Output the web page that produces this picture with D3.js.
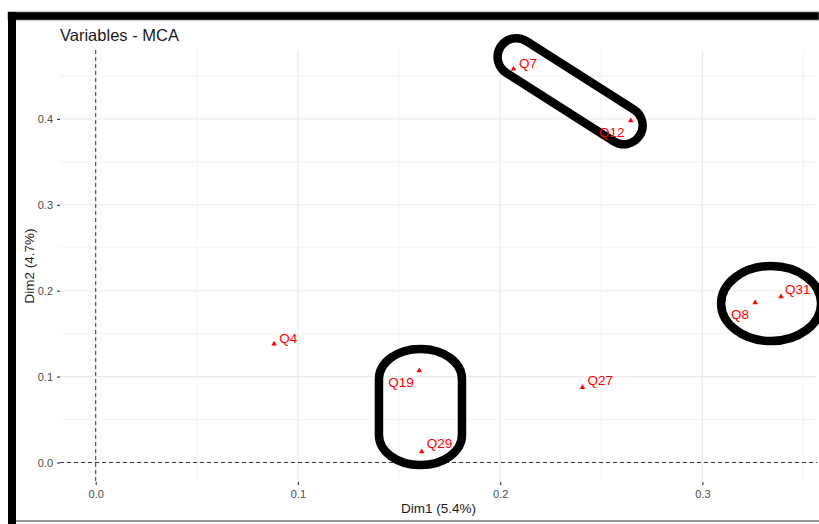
<!DOCTYPE html>
<html>
<head>
<meta charset="utf-8">
<script src="https://cdn.jsdelivr.net/npm/d3@7"></script>
<style>
  html, body { margin: 0; padding: 0; background: #fff; }
  svg { display: block; font-family: "Liberation Sans", Arial, sans-serif; }
</style>
</head>
<body>
<svg id="chart" width="819" height="524"></svg>
<script>
// ---- data ----
const labels = ["Q7", "Q12", "Q31", "Q8", "Q19", "Q29", "Q27", "Q4"];
const dim1 = [0.2066, 0.2646, 0.3389, 0.3261, 0.1600, 0.1612, 0.2407, 0.0882];
const dim2 = [0.4581, 0.3979, 0.1930, 0.1860, 0.1069, 0.0126, 0.0875, 0.1380];
const xTicks = [0.0, 0.1, 0.2, 0.3];
const yTicks = [0.0, 0.1, 0.2, 0.3, 0.4];
const xMinor = [0.05, 0.15, 0.25, 0.35];
const yMinor = [0.05, 0.15, 0.25, 0.35, 0.45];
const titleText = "Variables - MCA";
const xTitle = "Dim1 (5.4%)";
const yTitle = "Dim2 (4.7%)";
// hand-drawn highlight marks (centres in data units)
const annoX = [0.2346, 0.3340, 0.1606];
const annoY = [0.4322, 0.1851, 0.0646];

// ---- drawing ----
const svg = d3.select("#chart");
const panel = { left: 60, right: 817, top: 50, bottom: 482 };
const x = d3.scaleLinear().domain([-0.01766, 0.3567]).range([panel.left, panel.right]);
const y = d3.scaleLinear().domain([-0.0227, 0.4802]).range([panel.bottom, panel.top]);
const fmt = d3.format(".1f");

// grid
const grid = svg.append("g");
grid.selectAll(".vminor").data(xMinor).join("line")
  .attr("x1", d => x(d)).attr("x2", d => x(d))
  .attr("y1", panel.top).attr("y2", panel.bottom)
  .attr("stroke", "#ebebeb").attr("stroke-width", 0.6);
grid.selectAll(".hminor").data(yMinor).join("line")
  .attr("y1", d => y(d)).attr("y2", d => y(d))
  .attr("x1", panel.left).attr("x2", panel.right)
  .attr("stroke", "#ebebeb").attr("stroke-width", 0.6);
grid.selectAll(".vmajor").data(xTicks).join("line")
  .attr("x1", d => x(d)).attr("x2", d => x(d))
  .attr("y1", panel.top).attr("y2", panel.bottom)
  .attr("stroke", "#ebebeb").attr("stroke-width", 1.1);
grid.selectAll(".hmajor").data(yTicks).join("line")
  .attr("y1", d => y(d)).attr("y2", d => y(d))
  .attr("x1", panel.left).attr("x2", panel.right)
  .attr("stroke", "#ebebeb").attr("stroke-width", 1.1);

// axes
const xAxis = svg.append("g").attr("transform", `translate(0,${panel.bottom})`)
  .call(d3.axisBottom(x).tickValues(xTicks).tickFormat(fmt).tickSize(3).tickPadding(5));
const yAxis = svg.append("g").attr("transform", `translate(${panel.left},0)`)
  .call(d3.axisLeft(y).tickValues(yTicks).tickFormat(fmt).tickSize(3).tickPadding(4));
[xAxis, yAxis].forEach(a => {
  a.select(".domain").remove();
  a.selectAll(".tick line").attr("stroke", "#333").attr("stroke-width", 1.1);
  a.selectAll(".tick text").attr("fill", "#4d4d4d").style("font-size", "11px")
    .style("font-family", "'Liberation Sans', Arial, sans-serif");
});

// reference dashed lines
svg.append("line")
  .attr("x1", x(0)).attr("x2", x(0)).attr("y1", panel.top).attr("y2", panel.bottom)
  .attr("stroke", "#222").attr("stroke-width", 0.9).attr("stroke-dasharray", "4,3");
svg.append("line")
  .attr("y1", y(0)).attr("y2", y(0)).attr("x1", panel.left).attr("x2", panel.right)
  .attr("stroke", "#222").attr("stroke-width", 0.9).attr("stroke-dasharray", "4,3");

// points
const pts = labels.map((l, i) => ({ label: l, x: dim1[i], y: dim2[i] }));
svg.append("g").selectAll("path").data(pts).join("path")
  .attr("d", d3.symbol(d3.symbolTriangle, 13))
  .attr("transform", d => `translate(${x(d.x)},${y(d.y)})`)
  .attr("fill", "#ff0000");

// hand-drawn highlight marks
const anno = svg.append("g").attr("fill", "none").attr("stroke", "#000").attr("stroke-width", 8.5);
// capsule around Q7/Q12
anno.append("rect")
  .attr("transform", `translate(${x(annoX[0])},${y(annoY[0])}) rotate(32.5)`)
  .attr("x", -82.5).attr("y", -18.75).attr("width", 165).attr("height", 37.5)
  .attr("rx", 18.75).attr("ry", 18.75);
// ellipse around Q8/Q31
anno.append("ellipse")
  .attr("cx", x(annoX[1])).attr("cy", y(annoY[1])).attr("rx", 50).attr("ry", 37.5);
// rounded box around Q19/Q29
anno.append("rect")
  .attr("x", x(annoX[2]) - 41.5).attr("y", y(annoY[2]) - 58)
  .attr("width", 83).attr("height", 116).attr("rx", 41).attr("ry", 30);

// labels (repelled positions, pixel nudges)
const nudge = {
  Q7: [5.5, -5.5], Q12: [-31.7, 11.3], Q31: [4, -7.7], Q8: [-24, 11.3],
  Q19: [-31, 11.8], Q29: [5, -8.7], Q27: [5, -6.8], Q4: [5.3, -6]
};
svg.append("g").selectAll("text").data(pts).join("text")
  .attr("x", d => x(d.x) + nudge[d.label][0])
  .attr("y", d => y(d.y) + nudge[d.label][1])
  .attr("dy", "0.36em")
  .attr("fill", "#ff0000")
  .style("font-size", "13.5px")
  .text(d => d.label);

// titles
svg.append("text").attr("x", 60).attr("y", 41)
  .attr("fill", "#1a1a1a").style("font-size", "16.5px").text(titleText);
svg.append("text").attr("x", (panel.left + panel.right) / 2).attr("y", 513)
  .attr("text-anchor", "middle").attr("fill", "#1a1a1a").style("font-size", "13.5px").text(xTitle);
svg.append("text").attr("transform", `translate(34,${(panel.top + panel.bottom) / 2}) rotate(-90)`)
  .attr("text-anchor", "middle").attr("fill", "#1a1a1a").style("font-size", "13.5px").text(yTitle);

// screenshot frame
svg.append("rect").attr("x", 8).attr("y", 12).attr("width", 811).attr("height", 8)
  .attr("fill", "#000").attr("stroke", "#777").attr("stroke-width", 0.8);
svg.append("rect").attr("x", 8).attr("y", 12).attr("width", 8).attr("height", 512)
  .attr("fill", "#000");
svg.append("line").attr("x1", 16).attr("x2", 819).attr("y1", 521).attr("y2", 521)
  .attr("stroke", "#777").attr("stroke-width", 1.6);
</script>
</body>
</html>
